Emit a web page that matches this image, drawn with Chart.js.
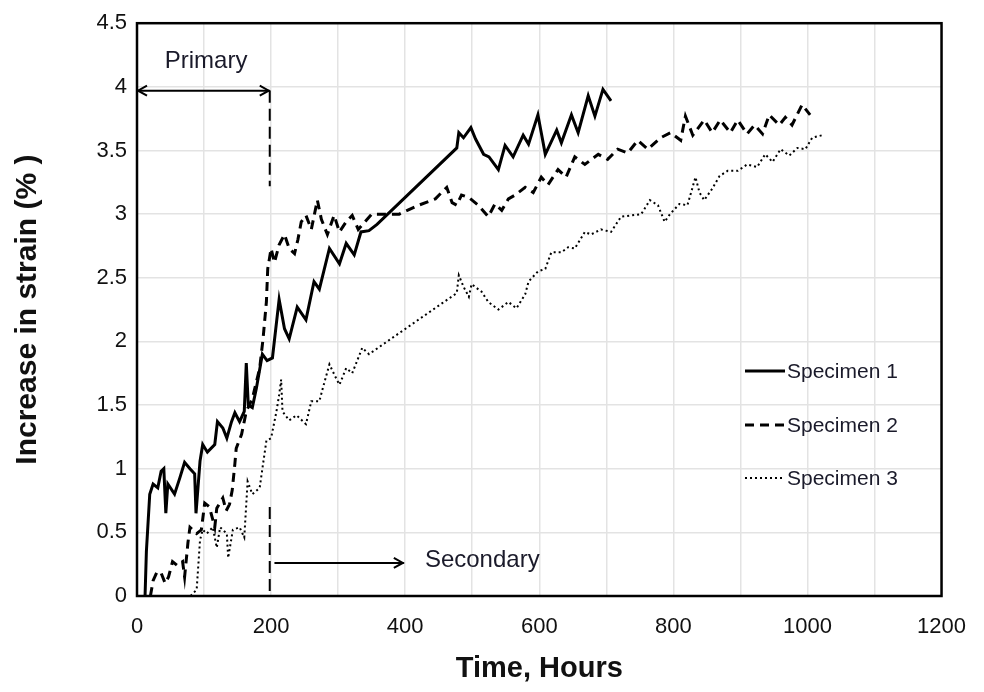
<!DOCTYPE html>
<html>
<head>
<meta charset="utf-8">
<script src="https://cdn.jsdelivr.net/npm/chart.js@4"></script>
<style>
  html, body { margin: 0; padding: 0; background: #fff; }
  #wrap { width: 984px; height: 692px; }
</style>
</head>
<body>
<div id="wrap"><canvas id="myChart" width="984" height="692"></canvas></div>
<script>
// creep test, strain increase vs time
const seriesNames = ["Specimen 1", "Specimen 2", "Specimen 3"];

const sp1Time = [12,14,19,24,31,36,40,43,46,56,64,71,79,86,88,94,98,105,116,120,128,134,141,146,153,160,163,166,172,178,187,194,202,212,220,227,239,252,264,272,287,302,312,324,334,346,358,477,480,487,498,505,517,525,539,549,561,576,584,598,603,609,626,633,648,658,673,683,695,707];
const sp1Strain = [0,0.35,0.8,0.88,0.85,0.98,1.0,0.65,0.88,0.8,0.93,1.05,1.0,0.96,0.65,1.06,1.19,1.13,1.19,1.37,1.32,1.24,1.37,1.44,1.37,1.45,1.83,1.5,1.48,1.63,1.9,1.85,1.87,2.33,2.1,2.02,2.27,2.17,2.47,2.41,2.73,2.61,2.77,2.68,2.86,2.87,2.92,3.52,3.64,3.6,3.68,3.59,3.47,3.45,3.35,3.54,3.45,3.62,3.55,3.78,3.64,3.47,3.66,3.56,3.78,3.64,3.93,3.77,3.98,3.89];

const sp2Time = [20,24,30,36,42,47,53,60,68,71,76,79,89,96,101,108,116,119,128,133,138,142,146,148,156,163,172,183,188,193,195,200,205,212,220,227,235,240,245,252,260,269,275,284,294,302,312,321,330,350,391,420,445,462,470,477,484,495,509,524,534,544,554,564,579,591,603,613,628,640,653,668,688,702,717,732,747,762,781,796,811,818,829,846,858,870,885,896,910,921,933,943,958,967,977,992,1004];
const sp2Strain = [0,0.12,0.19,0.18,0.1,0.15,0.27,0.24,0.27,0.15,0.42,0.54,0.49,0.52,0.73,0.7,0.54,0.69,0.77,0.67,0.72,0.83,1.04,1.16,1.27,1.45,1.55,1.79,2.02,2.31,2.57,2.73,2.62,2.76,2.84,2.73,2.69,2.8,2.94,2.99,2.88,3.11,2.96,2.84,2.99,2.86,2.94,2.99,2.88,3.0,3.0,3.07,3.12,3.21,3.09,3.07,3.15,3.13,3.07,2.98,3.08,3.03,3.12,3.15,3.21,3.17,3.29,3.23,3.35,3.29,3.45,3.39,3.47,3.43,3.51,3.48,3.58,3.51,3.6,3.64,3.58,3.77,3.62,3.74,3.64,3.74,3.64,3.74,3.63,3.7,3.63,3.78,3.7,3.76,3.7,3.86,3.78];

const sp3Time = [80,89,94,98,104,113,119,124,134,136,143,153,160,165,172,183,187,193,200,208,212,215,217,227,238,252,260,272,277,287,297,302,312,321,336,346,477,480,487,495,499,514,524,539,554,566,579,584,598,609,618,633,643,653,668,677,692,707,722,737,752,765,777,787,795,809,821,833,839,846,858,869,881,896,910,925,937,948,960,973,985,997,1007,1022];
const sp3Strain = [0,0.05,0.44,0.52,0.49,0.54,0.38,0.54,0.49,0.3,0.52,0.54,0.46,0.9,0.8,0.85,1.0,1.22,1.24,1.45,1.58,1.7,1.45,1.38,1.42,1.35,1.53,1.53,1.63,1.82,1.71,1.66,1.79,1.75,1.95,1.9,2.38,2.52,2.43,2.35,2.45,2.39,2.31,2.25,2.31,2.26,2.37,2.47,2.55,2.57,2.7,2.7,2.74,2.73,2.86,2.84,2.88,2.86,2.98,2.99,3.0,3.11,3.07,2.94,3.0,3.08,3.07,3.29,3.17,3.11,3.2,3.3,3.34,3.34,3.39,3.37,3.47,3.41,3.51,3.46,3.52,3.51,3.6,3.62];

// stage annotations (data units)
const primaryEnd = 198;       // hours
const primaryArrowY = 3.97;
const primaryDashBottom = 3.22;
const secondaryDashTop = 0.7;
const secondaryArrow = [205, 398];
const secondaryArrowY = 0.26;

function pts(t, v) {
  return t.map((x, i) => ({x: x, y: v[i]}));
}

const dashes = [[], [9, 6], [2, 3]];
const widths = [3, 3, 2];

const datasets = [
  {label: seriesNames[0], data: pts(sp1Time, sp1Strain)},
  {label: seriesNames[1], data: pts(sp2Time, sp2Strain)},
  {label: seriesNames[2], data: pts(sp3Time, sp3Strain)}
].map((d, i) => Object.assign(d, {
  borderColor: "#000",
  backgroundColor: "#000",
  borderWidth: widths[i],
  borderDash: dashes[i],
  pointRadius: 0,
  tension: 0,
  fill: false
}));

function arrowHead(ctx, x, y, dir) {
  ctx.beginPath();
  ctx.moveTo(x + dir * 9, y - 5);
  ctx.lineTo(x, y);
  ctx.lineTo(x + dir * 9, y + 5);
  ctx.stroke();
}

const extras = {
  id: "extras",
  afterDatasetsDraw(chart) {
    const ctx = chart.ctx;
    const xs = chart.scales.x, ys = chart.scales.y;
    const a = chart.chartArea;
    ctx.save();
    ctx.strokeStyle = "#000";
    ctx.fillStyle = "#000";

    // primary stage arrow
    const x0 = xs.getPixelForValue(0), x1 = xs.getPixelForValue(primaryEnd);
    const yp = ys.getPixelForValue(primaryArrowY);
    ctx.lineWidth = 2;
    ctx.setLineDash([]);
    ctx.beginPath(); ctx.moveTo(x0, yp); ctx.lineTo(x1, yp); ctx.stroke();
    arrowHead(ctx, x0 + 1, yp, 1);
    arrowHead(ctx, x1 - 1, yp, -1);
    ctx.setLineDash([12, 6]);
    ctx.beginPath(); ctx.moveTo(x1, yp); ctx.lineTo(x1, ys.getPixelForValue(primaryDashBottom)); ctx.stroke();
    ctx.beginPath(); ctx.moveTo(x1, ys.getPixelForValue(secondaryDashTop)); ctx.lineTo(x1, ys.getPixelForValue(0)); ctx.stroke();

    // secondary stage arrow
    ctx.setLineDash([]);
    const s0 = xs.getPixelForValue(secondaryArrow[0]), s1 = xs.getPixelForValue(secondaryArrow[1]);
    const ysa = ys.getPixelForValue(secondaryArrowY);
    ctx.beginPath(); ctx.moveTo(s0, ysa); ctx.lineTo(s1, ysa); ctx.stroke();
    arrowHead(ctx, s1 - 1, ysa, -1);

    ctx.font = "24px 'Liberation Sans', Arial, sans-serif";
    ctx.textAlign = "center";
    ctx.textBaseline = "middle";
    ctx.fillStyle = "#1a1a2a";
    ctx.fillText("Primary", xs.getPixelForValue(103), ys.getPixelForValue(4.2));
    ctx.fillText("Secondary", xs.getPixelForValue(515), ys.getPixelForValue(0.28));

    // legend inside the plot
    ctx.font = "21px 'Liberation Sans', Arial, sans-serif";
    ctx.textAlign = "left";
    const lx = a.left + 608, ly = [371, 425, 478];
    chart.data.datasets.forEach((d, i) => {
      ctx.lineWidth = d.borderWidth;
      ctx.setLineDash(d.borderDash);
      ctx.beginPath(); ctx.moveTo(lx, ly[i]); ctx.lineTo(lx + 40, ly[i]); ctx.stroke();
      ctx.setLineDash([]);
      ctx.fillText(d.label, lx + 42, ly[i] + 1);
    });

    // plot frame
    ctx.lineWidth = 2.5;
    ctx.strokeRect(a.left, a.top, a.right - a.left, a.bottom - a.top);
    ctx.restore();
  }
};

new Chart("myChart", {
  type: "line",
  data: {datasets: datasets},
  plugins: [extras],
  options: {
    responsive: false,
    animation: false,
    layout: {padding: {top: 20, right: 39, left: 0, bottom: 0}},
    plugins: {legend: {display: false}, tooltip: {enabled: false}},
    scales: {
      x: {
        type: "linear",
        min: 0, max: 1200,
        afterFit: (s) => { s.height = 96; },
        grid: {color: "#e3e3e3", lineWidth: 1.5, drawTicks: false},
        border: {display: false},
        ticks: {
          stepSize: 100,
          autoSkip: false,
          maxRotation: 0,
          padding: 18,
          color: "#111",
          font: {size: 22, family: "'Liberation Sans', Arial, sans-serif"},
          callback: (v) => (v % 200 === 0 ? v : "")
        },
        title: {
          display: true,
          text: "Time, Hours",
          color: "#111",
          padding: {top: 0, bottom: 6},
          font: {size: 29, weight: "bold", family: "'Liberation Sans', Arial, sans-serif"}
        }
      },
      y: {
        min: 0, max: 4.5,
        afterFit: (s) => { s.width = 137; },
        grid: {color: "#e3e3e3", lineWidth: 1.5, drawTicks: false},
        border: {display: false},
        ticks: {
          stepSize: 0.5,
          padding: 10,
          color: "#111",
          font: {size: 22, family: "'Liberation Sans', Arial, sans-serif"},
          callback: (v) => String(v)
        },
        title: {
          display: true,
          text: "Increase in strain (% )",
          color: "#111",
          padding: {top: 10, bottom: 0},
          font: {size: 30, weight: "bold", family: "'Liberation Sans', Arial, sans-serif"}
        }
      }
    }
  }
});
</script>
</body>
</html>
